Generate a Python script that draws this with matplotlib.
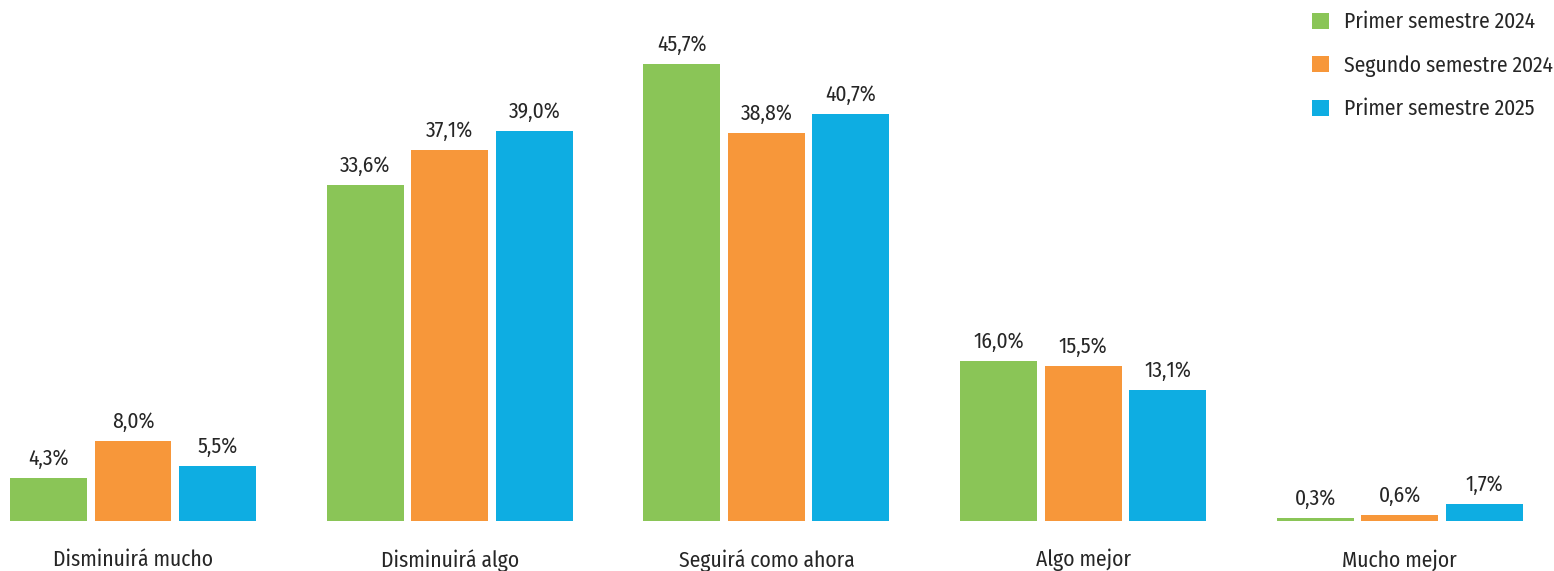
import numpy as np
import matplotlib
matplotlib.use("Agg")
import matplotlib.pyplot as plt

categories = ["Disminuirá mucho", "Disminuirá algo", "Seguirá como ahora", "Algo mejor", "Mucho mejor"]
series = ["Primer semestre 2024", "Segundo semestre 2024", "Primer semestre 2025"]
h1_2024 = [4.3, 33.6, 45.7, 16.0, 0.3]
h2_2024 = [8.0, 37.1, 38.8, 15.5, 0.6]
h1_2025 = [5.5, 39.0, 40.7, 13.1, 1.7]
colors = ["#8AC557", "#F7973A", "#0EADE2"]

plt.rcParams['font.family'] = ['Fira Sans Condensed', 'Roboto Condensed',
                               'Open Sans', 'DejaVu Sans']
txt = "#262626"

fig = plt.figure(figsize=(15.54, 5.71), dpi=100)
ax = fig.add_axes([0, 50/571, 1, 521/571])

x = np.arange(len(categories))
offs = [-0.267, 0.0, 0.267]
width = 0.243
for vals, off, col, name in zip([h1_2024, h2_2024, h1_2025], offs, colors, series):
    bars = ax.bar(x + off, vals, width, color=col, label=name)
    for b, v in zip(bars, vals):
        ax.annotate(("%.1f%%" % v).replace(".", ","), (b.get_x() + b.get_width()/2, v),
                    xytext=(0, 6), textcoords="offset points", ha="center", va="bottom",
                    fontsize=15.5, color=txt)

ax.set_xlim(-0.42, 4.487)
ax.set_ylim(0, 52.1)
ax.set_xticks(x)
ax.set_xticklabels(categories, fontsize=15.5, color=txt)
ax.tick_params(axis="x", length=0, pad=20)
ax.set_yticks([])
for s in ax.spines.values():
    s.set_visible(False)

fig.legend(loc="upper left", bbox_to_anchor=(1293/1554, 1.014), frameon=False,
           fontsize=15.5, handlelength=0.75, handleheight=0.75, handletextpad=0.7,
           labelspacing=1.02, labelcolor=txt)

fig.savefig("out.png", dpi=100)
